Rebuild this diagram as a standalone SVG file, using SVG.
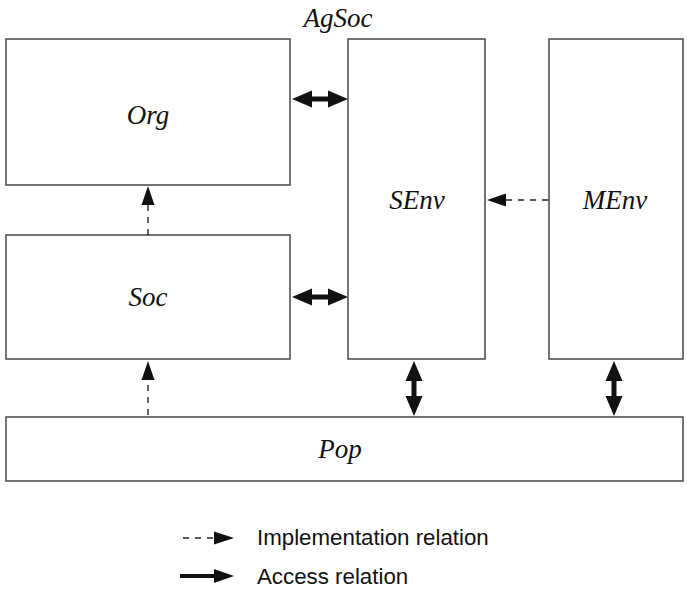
<svg xmlns="http://www.w3.org/2000/svg" width="687" height="589" viewBox="0 0 687 589">
<style>
.box{fill:#fff;stroke:#3a3a3a;stroke-width:1.4}
.lbl{font-family:"Liberation Serif","Times New Roman",serif;font-style:italic;font-size:27px;fill:#111;text-anchor:middle;dominant-baseline:central}
.leg{font-family:"Liberation Sans",Arial,sans-serif;font-size:22.3px;fill:#111;dominant-baseline:central}
.dash{stroke:#222;stroke-width:1.4;stroke-dasharray:6,6;fill:none}
.head{fill:#111}
.acc{fill:#111}
</style>
<rect width="687" height="589" fill="#fff"/>
<text class="lbl" x="338" y="18">AgSoc</text>
<g id="Org"><rect class="box" x="6" y="39" width="284" height="146"/><text class="lbl" x="148" y="115">Org</text></g>
<g id="Soc"><rect class="box" x="6" y="235" width="284" height="124"/><text class="lbl" x="148" y="297">Soc</text></g>
<g id="SEnv"><rect class="box" x="348" y="39" width="137" height="320"/><text class="lbl" x="417" y="200">SEnv</text></g>
<g id="MEnv"><rect class="box" x="549" y="39" width="134" height="320"/><text class="lbl" x="615" y="200">MEnv</text></g>
<g id="Pop"><rect class="box" x="6" y="417" width="677" height="64"/><text class="lbl" x="340" y="449">Pop</text></g>
<g id="connectors">
<line class="dash" x1="148" y1="235" x2="148" y2="204"/>
<polygon class="head" points="148,186 154.5,205 141.5,205"/>
<line class="dash" x1="148" y1="415" x2="148" y2="380"/>
<polygon class="head" points="148,361 154.5,380 141.5,380"/>
<line class="dash" x1="548" y1="200" x2="505" y2="200"/>
<polygon class="head" points="487,200 506,193.5 506,206.5"/>
<polygon class="acc" points="292,99 312,90.5 312,96.5 328,96.5 328,90.5 348,99 328,107.5 328,101.5 312,101.5 312,107.5"/>
<polygon class="acc" points="292,297 312,288.5 312,294.5 328,294.5 328,288.5 348,297 328,305.5 328,299.5 312,299.5 312,305.5"/>
<polygon class="acc" points="414,361 422.5,381 416.5,381 416.5,396 422.5,396 414,416 405.5,396 411.5,396 411.5,381 405.5,381"/>
<polygon class="acc" points="614,361 622.5,381 616.5,381 616.5,396 622.5,396 614,416 605.5,396 611.5,396 611.5,381 605.5,381"/>
</g>
<g id="legend">
<line class="dash" x1="183" y1="538" x2="215" y2="538"/>
<polygon class="head" points="234,538 214,531.5 214,544.5"/>
<text class="leg" x="257" y="537">Implementation relation</text>
<polygon class="acc" points="180,574 214,574 214,569 234,576 214,583 214,578 180,578"/>
<text class="leg" x="257" y="576">Access relation</text>
</g>
</svg>
